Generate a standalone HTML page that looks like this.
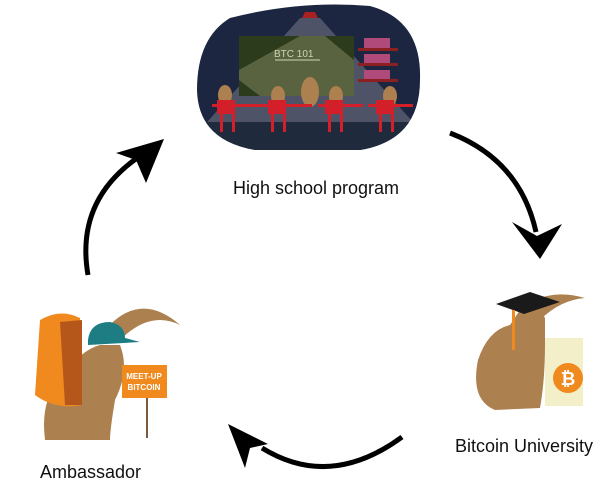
<!DOCTYPE html>
<html><head><meta charset="utf-8"><style>
html,body{margin:0;padding:0;background:#fff;}
svg{display:block}
text{font-family:"Liberation Sans",sans-serif;fill:#111}
</style></head><body>
<svg width="616" height="484" viewBox="0 0 616 484" xmlns="http://www.w3.org/2000/svg">
<defs><clipPath id="blob"><path d="M230 18 Q300 0 370 6 Q422 20 420 80 Q420 140 360 150 L255 150 Q198 140 197 90 Q197 38 230 18Z"/></clipPath></defs>
<g clip-path="url(#blob)">
<rect x="190" y="0" width="240" height="155" fill="#1c2640"/>
<polygon points="300,18 320,18 420,130 200,130" fill="#6f7282" opacity="0.6"/>
<rect x="239" y="36" width="115" height="60" fill="#2b3b1c"/>
<polygon points="300,36 325,36 354,60 354,96 260,96 239,80 239,70" fill="#5a6340"/>
<text x="274" y="57" font-size="10" style="fill:#cfd5b0">BTC 101</text>
<line x1="275" y1="60" x2="320" y2="60" stroke="#cfd5b0" stroke-width="1"/>
<rect x="190" y="122" width="240" height="35" fill="#1f2a3c"/>
<g fill="#8c2020"><rect x="358" y="48" width="40" height="3"/><rect x="358" y="63" width="40" height="3"/><rect x="358" y="79" width="40" height="3"/></g>
<g fill="#b04a7a"><rect x="364" y="38" width="26" height="10"/><rect x="364" y="54" width="26" height="9"/><rect x="364" y="70" width="26" height="9"/></g>
<g fill="#ad8050">
<ellipse cx="225" cy="95" rx="7" ry="10"/><ellipse cx="278" cy="96" rx="7" ry="10"/>
<ellipse cx="310" cy="92" rx="9" ry="15"/><ellipse cx="336" cy="96" rx="7" ry="10"/><ellipse cx="390" cy="96" rx="7" ry="10"/>
</g>
<g fill="#d21f2a">
<rect x="217" y="100" width="18" height="14"/><rect x="268" y="100" width="18" height="14"/>
<rect x="325" y="100" width="18" height="14"/><rect x="376" y="100" width="18" height="14"/>
<rect x="212" y="104" width="50" height="3"/><rect x="262" y="104" width="50" height="3"/>
<rect x="318" y="104" width="45" height="3"/><rect x="368" y="104" width="45" height="3"/>
<rect x="220" y="114" width="3" height="18"/><rect x="232" y="114" width="3" height="18"/>
<rect x="271" y="114" width="3" height="18"/><rect x="283" y="114" width="3" height="18"/>
<rect x="328" y="114" width="3" height="18"/><rect x="340" y="114" width="3" height="18"/>
<rect x="379" y="114" width="3" height="18"/><rect x="391" y="114" width="3" height="18"/>
</g>
<path d="M302 18 h16 l-3 -6 h-10z" fill="#a82020"/>
</g>
<text x="316" y="194" font-size="18" text-anchor="middle">High school program</text>

<g fill="none" stroke="#000" stroke-width="5">
<path d="M450 133 Q520 160 536 232"/>
<path d="M402 437 Q330 490 262 448"/>
<path d="M88 275 Q75 200 140 156"/>
</g>
<polygon points="540,259 512,222 537,236 562,224" fill="#000"/>
<polygon points="228,424 268,444 250,448 245,468" fill="#000"/>
<polygon points="164,139 116,153 136,160 146,183" fill="#000"/>

<!-- graduate rabbit -->
<path d="M495 410 Q470 400 478 360 Q488 330 510 325 L520 310 Q535 300 545 318 L545 345 Q545 380 540 408Z" fill="#ad8050"/>
<path d="M515 318 Q540 285 585 298 Q560 300 540 320Z" fill="#ad8050"/>
<polygon points="496,304 530,292 560,302 524,314" fill="#1a1a1a"/>
<rect x="512" y="310" width="3" height="40" fill="#f08a1e"/>
<rect x="545" y="338" width="38" height="68" fill="#f3efc8"/>
<circle cx="568" cy="378" r="15" fill="#f08a1e"/>
<text x="568" y="385" font-size="18" font-weight="bold" text-anchor="middle" style="fill:#fff">₿</text>
<text x="455" y="452" font-size="18">Bitcoin University</text>

<!-- ambassador rabbit -->
<path d="M45 440 Q40 400 60 380 Q80 350 100 345 L120 345 Q130 370 115 400 Q110 430 110 440Z" fill="#ad8050"/>
<path d="M105 330 Q140 290 180 325 Q150 310 120 340Z" fill="#ad8050"/>
<path d="M40 320 Q60 308 80 318 L82 405 Q55 410 35 395Z" fill="#f08a1e"/>
<path d="M60 322 L82 320 L82 405 L65 405Z" fill="#b5571b"/>
<path d="M88 340 Q90 322 110 322 Q125 325 125 338 L140 342 L88 345Z" fill="#1d7d83"/>
<rect x="122" y="365" width="45" height="33" fill="#f08a1e"/>
<text x="144" y="379" font-size="8" font-weight="bold" text-anchor="middle" style="fill:#fff">MEET-UP</text>
<text x="144" y="390" font-size="8" font-weight="bold" text-anchor="middle" style="fill:#fff">BITCOIN</text>
<rect x="146" y="398" width="2" height="40" fill="#7a5a3a"/>
<text x="40" y="478" font-size="18">Ambassador</text>
</svg>
</body></html>
